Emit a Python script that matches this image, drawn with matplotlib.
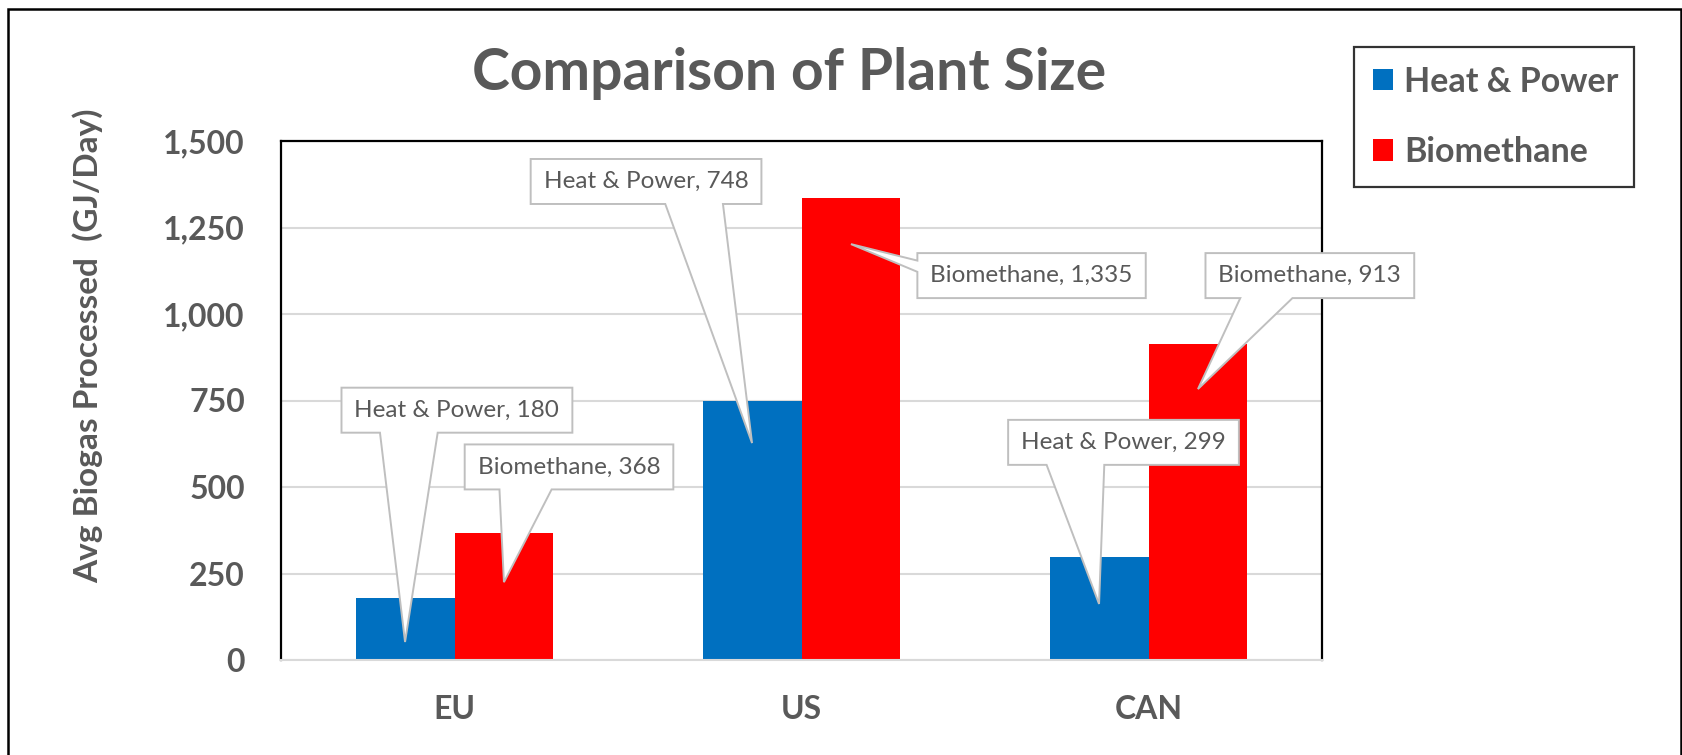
'''Comparison of plant size: avg biogas processed per region.'''
import numpy as np
import matplotlib
matplotlib.use('Agg')
from matplotlib import pyplot as plt
from matplotlib.patches import Patch, Polygon, Rectangle
from matplotlib.ticker import FuncFormatter

# ==============================
# DATA
regions = ['EU', 'US', 'CAN']
series_names = ['Heat & Power', 'Biomethane']
heat_power = [180, 748, 299]
biomethane = [368, 1335, 913]

# ==============================
# LAYOUT (callout box centres and pointer tips, data coords)
callout_boxes = {
    'Heat & Power': [(0.007, 722), (0.552, 1383), (1.928, 629)],
    'Biomethane': [(0.330, 558), (1.663, 1111), (2.465, 1111)],
}
callout_tips = {
    'Heat & Power': [52, 627, 162],
    'Biomethane': [225, 1202, 783],
}

BLUE = '#0070C0'
RED = '#FF0000'
GREY_TEXT = '#595959'
GRID = '#D9D9D9'
FONT = 'Lato'

W, H = 1683, 755
plt.rcParams['font.family'] = [FONT, 'DejaVu Sans']
fig = plt.figure(figsize=(W / 100, H / 100), dpi=100)
ax = fig.add_axes([281 / W, 1 - 660 / H, (1322 - 281) / W, (660 - 141) / H])

x = np.arange(len(regions))
bar_w = 0.285
ax.bar(x - bar_w / 2, heat_power, bar_w, color=BLUE, zorder=2)
ax.bar(x + bar_w / 2, biomethane, bar_w, color=RED, zorder=2)

ax.set_xlim(-0.5, len(regions) - 0.5)
ax.set_ylim(0, 1500)
ax.set_yticks(np.arange(0, 1501, 250))
ax.yaxis.set_major_formatter(FuncFormatter(lambda v, _: f'{v:,.0f}'))
ax.set_xticks(x)
ax.set_xticklabels(regions)
ax.grid(axis='y', color=GRID, linewidth=1.5, zorder=0)
ax.set_axisbelow(True)
ax.tick_params(length=0, colors=GREY_TEXT, labelsize=23)
ax.tick_params(axis='y', pad=26)
ax.tick_params(axis='x', pad=25)
for lbl in ax.get_xticklabels() + ax.get_yticklabels():
    lbl.set_fontweight('bold')
for side in ['left', 'top', 'right']:
    ax.spines[side].set_color('black')
    ax.spines[side].set_linewidth(1.6)
ax.spines['bottom'].set_color(GRID)
ax.spines['bottom'].set_linewidth(1.5)

ax.set_ylabel('Avg Biogas Processed  (GJ/Day)', fontsize=24, fontweight='bold',
              color=GREY_TEXT)
ax.yaxis.set_label_coords(-0.171, 0.605)

fig.text(789 / W, 1 - 74 / H, 'Comparison of Plant Size', fontsize=41,
         fontweight='bold', color=GREY_TEXT, ha='center', va='center')

# Legend
handles = [Patch(facecolor=BLUE), Patch(facecolor=RED)]
leg = fig.legend(handles, series_names, loc='upper left',
                 bbox_to_anchor=(1354 / W, 1 - 47 / H, (1634 - 1354) / W, 0.0),
                 mode='expand', fancybox=False, edgecolor='black',
                 prop={'family': FONT, 'weight': 'bold', 'size': 24.5},
                 handlelength=0.59, handleheight=0.59, handletextpad=0.33,
                 labelspacing=1.12, borderpad=0.55, borderaxespad=0)
leg.get_frame().set_linewidth(1.6)
for t in leg.get_texts():
    t.set_color(GREY_TEXT)

# Outer chart border
fig.patches.append(Rectangle((8 / W, -0.1), (1681 - 8) / W, 1.1 - 9 / H,
                             transform=fig.transFigure, fill=False,
                             edgecolor='black', linewidth=1.8))

# ==============================
# Callouts
fig.canvas.draw()
renderer = fig.canvas.get_renderer()
offsets = {'Heat & Power': -bar_w / 2, 'Biomethane': bar_w / 2}
values = {'Heat & Power': heat_power, 'Biomethane': biomethane}
box_h = 45
pad_x = 13
for name in series_names:
    for i in range(len(regions)):
        bx, by = callout_boxes[name][i]
        label = f'{name}, {values[name][i]:,}'
        cx, cy = ax.transData.transform((bx, by))
        txt = fig.text(cx / W, cy / H, label, fontsize=17.5, color=GREY_TEXT,
                       ha='center', va='center', zorder=7)
        ext = txt.get_window_extent(renderer)
        l, r = ext.x0 - pad_x, ext.x1 + pad_x
        b, t = cy - box_h / 2, cy + box_h / 2
        tx, ty = ax.transData.transform((i + offsets[name], callout_tips[name][i]))
        w = r - l
        if abs(tx - cx) > (w / 2) and ty > b:
            # pointer on left / right edge
            hh = t - b
            if tx < l:
                verts = [(l, t), (r, t), (r, b), (l, b),
                         (l, t - hh * 5 / 12), (tx, ty), (l, t - hh / 6)]
            else:
                verts = [(l, t), (r, t), (r, t - hh / 6), (tx, ty),
                         (r, t - hh * 5 / 12), (r, b), (l, b)]
        else:
            if tx < cx:
                b0, b1 = l + w / 6, l + w * 5 / 12
            else:
                b0, b1 = l + w * 7 / 12, l + w * 5 / 6
            verts = [(l, t), (r, t), (r, b), (b1, b), (tx, ty), (b0, b), (l, b)]
        fig.patches.append(Polygon(verts, closed=True, facecolor='white',
                                   edgecolor='#BFBFBF', linewidth=1.4,
                                   transform=None, zorder=5))

fig.savefig('out.png', dpi=100, facecolor='white')
